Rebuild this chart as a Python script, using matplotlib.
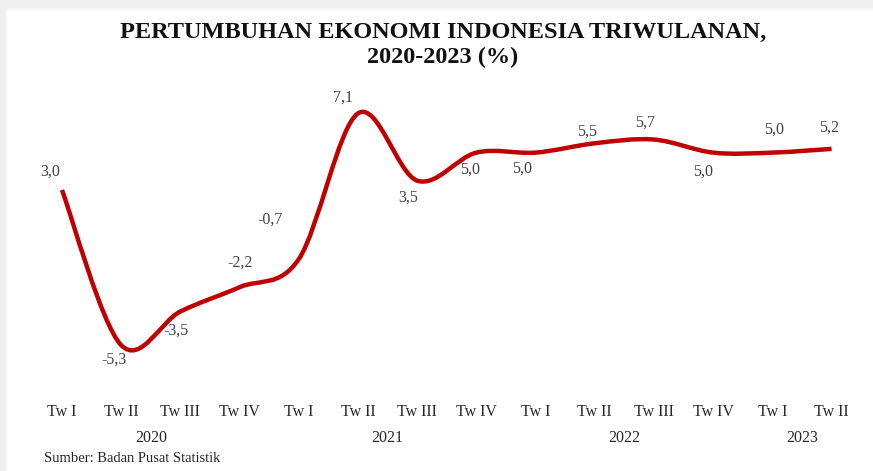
import matplotlib
matplotlib.use("Agg")
import matplotlib.pyplot as plt
from matplotlib.path import Path
from matplotlib.patches import PathPatch, Rectangle
from matplotlib.transforms import blended_transform_factory
import numpy as np

# ---- data ----
quarters = ["Tw I", "Tw II", "Tw III", "Tw IV",
            "Tw I", "Tw II", "Tw III", "Tw IV",
            "Tw I", "Tw II", "Tw III", "Tw IV",
            "Tw I", "Tw II"]
growth = [3.0, -5.3, -3.5, -2.2, -0.7, 7.1, 3.5, 5.0, 5.0, 5.5, 5.7, 5.0, 5.0, 5.2]
years = ["2020", "2021", "2022", "2023"]
year_centers = [1.5, 5.5, 9.5, 12.5]

# label offsets in pixels (dx, dy up-positive)
label_offsets = [(-12, 18), (-7, -15), (-4, -19), (0, 25), (-29, 40), (-15, 16),
                 (-9, -17), (-6, -17), (-14, -16), (-8, 12), (-9, 17), (-10, -19),
                 (2, 23), (-3, 21)]

FONT = "Liberation Serif"
W, H = 873, 471
fig = plt.figure(figsize=(W / 100, H / 100), dpi=100)
fig.patch.set_facecolor("#efefef")

# white page with soft shadow
for k, a in enumerate([0.25, 0.45, 0.7]):
    fig.patches.append(Rectangle(((8 - 3 + k) / W, 0), 1, (H - 11 + 3 - k) / H,
                                 transform=fig.transFigure, facecolor="white",
                                 edgecolor="none", alpha=a, zorder=-10))
fig.patches.append(Rectangle((8 / W, 0), 1, (H - 11) / H, transform=fig.transFigure,
                             facecolor="white", edgecolor="none", zorder=-10))

# axes placement
ax_left, ax_right, ax_top, ax_bottom = 30, 860, 90, 390
ax = fig.add_axes([ax_left / W, 1 - ax_bottom / H, (ax_right - ax_left) / W,
                   (ax_bottom - ax_top) / H])
ax.set_zorder(5)
ax.patch.set_alpha(0)
n = len(growth)
x = np.arange(n)
ax.set_xlim(-0.54, 13.48)
ax.set_ylim(-7.70, 8.35)
for s in ax.spines.values():
    s.set_visible(False)
ax.set_yticks([])
ax.set_xticks(x)
ax.set_xticklabels(quarters, fontfamily=FONT, fontsize=11.5, color="#262626")
ax.tick_params(axis="x", length=0, pad=10)

# smooth line (cubic Bezier through the points, Excel-like)
pts = np.column_stack([x, growth]).astype(float)
verts = [tuple(pts[0])]
codes = [Path.MOVETO]
for i in range(n - 1):
    p0 = pts[i - 1] if i > 0 else pts[i]
    p1 = pts[i]
    p2 = pts[i + 1]
    p3 = pts[i + 2] if i + 2 < n else pts[i + 1]
    c1 = p1 + (p2 - p0) / 6.0
    c2 = p2 - (p3 - p1) / 6.0
    verts += [tuple(c1), tuple(c2), tuple(p2)]
    codes += [Path.CURVE4] * 3
ax.add_patch(PathPatch(Path(verts, codes), facecolor="none", edgecolor="#c00000",
                       lw=3.2, capstyle="butt", joinstyle="round"))

# data labels
for xi, v, (dx, dy) in zip(x, growth, label_offsets):
    ax.annotate(f"{v:.1f}".replace(".", ","), (xi, v), xytext=(dx, dy),
                textcoords="offset pixels", ha="center", va="center",
                fontfamily=FONT, fontsize=11.5, color="#404040")

# year labels
tr = blended_transform_factory(ax.transData, fig.transFigure)
for yc, yl in zip(year_centers, years):
    ax.text(yc, 1 - 438 / H, yl, transform=tr, ha="center", va="center",
            fontfamily=FONT, fontsize=11.5, color="#262626")

# title
fig.text(0.5 * (118 + 768) / W, 1 - 32 / H, "PERTUMBUHAN EKONOMI INDONESIA TRIWULANAN,",
         ha="center", va="center", fontfamily=FONT, fontsize=17.5, fontweight="bold",
         color="#111111")
fig.text(0.5 * (118 + 768) / W, 1 - 57 / H, "2020-2023 (%)",
         ha="center", va="center", fontfamily=FONT, fontsize=17.5, fontweight="bold",
         color="#111111")

# source
fig.text(44 / W, 1 - 459 / H, "Sumber: Badan Pusat Statistik", ha="left", va="center",
         fontfamily=FONT, fontsize=10.5, color="#262626")

fig.savefig("out.png", dpi=100, facecolor=fig.get_facecolor())
